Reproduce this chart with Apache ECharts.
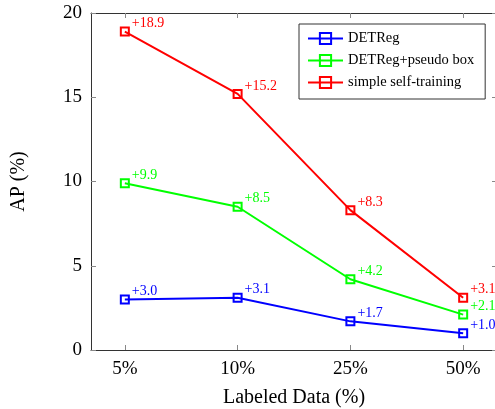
<!DOCTYPE html>
<html>
<head>
<meta charset="utf-8">
<script src="https://cdn.jsdelivr.net/npm/echarts@6/dist/echarts.min.js"></script>
<style>
  html, body { margin: 0; padding: 0; background: #fff; }
  #chart { width: 495px; height: 409px; }
</style>
</head>
<body>
<div id="chart"></div>
<script>
const categories = ['5%', '10%', '25%', '50%']
const detreg = [3.0, 3.1, 1.7, 1.0]
const pseudoBox = [9.9, 8.5, 4.2, 2.1]
const selfTraining = [18.9, 15.2, 8.3, 3.1]
const yTicks = [0, 5, 10, 15, 20]

const FONT = 'Liberation Serif'
const catIdx = categories.map((c, i) => i)

function makeSeries(name, values, color) {
  return {
    name: name,
    type: 'line',
    data: values.map((v, i) => [i, v]),
    symbol: 'rect',
    symbolSize: 8,
    lineStyle: { color: color, width: 2 },
    itemStyle: { color: 'rgba(0,0,0,0)', borderColor: color, borderWidth: 2 },
    label: {
      show: true,
      position: 'right',
      distance: 2,
      offset: [0, -8],
      color: color,
      fontFamily: FONT,
      fontSize: 14,
      formatter: p => '+' + p.value[1].toFixed(1)
    },
    emphasis: { disabled: true },
    animation: false
  }
}

const chart = echarts.init(document.getElementById('chart'))

const axisLine = { show: true, onZero: false, lineStyle: { color: '#333', width: 1 } }
const tick = { show: true, inside: true, length: 5, lineStyle: { color: '#888', width: 1 } }

chart.setOption({
  backgroundColor: '#fff',
  grid: {
    left: 91, top: 13, right: -2, bottom: 59,
    outerBoundsMode: 'none',
    containLabel: false,
    show: false
  },
  legend: {
    orient: 'vertical',
    left: 299,
    top: 24,
    padding: [7, 11, 9, 8],
    itemGap: 7,
    itemWidth: 35,
    itemHeight: 14,
    borderColor: '#333',
    borderWidth: 1,
    borderRadius: 0,
    textStyle: { fontFamily: FONT, fontSize: 14.5, color: '#000' },
    data: ['DETReg', 'DETReg+pseudo box', 'simple self-training']
  },
  xAxis: [
    {
      type: 'value',
      min: -0.3,
      max: 3.3,
      axisLine: axisLine,
      axisTick: Object.assign({ customValues: catIdx }, tick),
      splitLine: { show: false },
      axisLabel: {
        customValues: catIdx,
        margin: 10,
        fontFamily: FONT,
        fontSize: 19,
        color: '#000',
        formatter: v => categories[Math.round(v)]
      },
      name: 'Labeled Data (%)',
      nameLocation: 'middle',
      nameGap: 38,
      nameTextStyle: { fontFamily: FONT, fontSize: 20, color: '#000' }
    },
    {
      type: 'value',
      position: 'top',
      min: -0.3,
      max: 3.3,
      axisLine: axisLine,
      axisTick: Object.assign({ customValues: catIdx }, tick),
      axisLabel: { show: false },
      splitLine: { show: false }
    }
  ],
  yAxis: [
    {
      type: 'value',
      min: 0,
      max: 20,
      interval: 5,
      axisLine: axisLine,
      axisTick: tick,
      splitLine: { show: false },
      axisLabel: {
        margin: 9,
        fontFamily: FONT,
        fontSize: 19,
        color: '#000',
        formatter: v => (yTicks.includes(v) ? String(v) : '')
      },
      name: 'AP (%)',
      nameLocation: 'middle',
      nameRotate: 90,
      nameGap: 62,
      nameTextStyle: { fontFamily: FONT, fontSize: 20, color: '#000' }
    },
    {
      type: 'value',
      position: 'right',
      min: 0,
      max: 20,
      interval: 5,
      axisLine: axisLine,
      axisTick: tick,
      axisLabel: { show: false },
      splitLine: { show: false }
    }
  ],
  series: [
    makeSeries('DETReg', detreg, '#0000ff'),
    makeSeries('DETReg+pseudo box', pseudoBox, '#00ff00'),
    makeSeries('simple self-training', selfTraining, '#ff0000')
  ]
})
</script>
</body>
</html>
